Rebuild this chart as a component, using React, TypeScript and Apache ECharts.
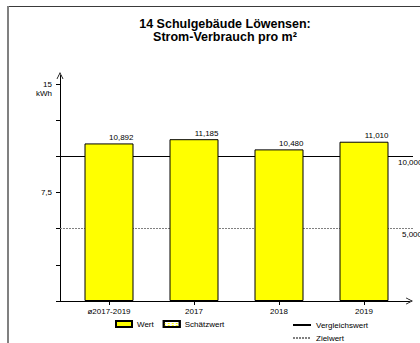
import React, { useEffect, useRef } from "react";
import * as echarts from "echarts";

const categories = ["ø2017-2019", "2017", "2018", "2019"];
const values = [10.892, 11.185, 10.48, 11.01];
const referenceValue = 10; // Vergleichswert
const targetValue = 5; // Zielwert
const yLabelValues = [7.5, 15];
const yMax = 15;
const yInterval = 2.5;
const titleText = "14 Schulgebäude Löwensen:\nStrom-Verbrauch pro m²";

const FONT = '"Liberation Sans", Arial, sans-serif';
const fmt3 = (v: number) => v.toFixed(3).replace(".", ",");
const fmtAxis = (v: number) => String(v).replace(".", ",");
const CHEVRON = "path://M0,10 L5,0 L10,10 L8.8,10 L5,2.6 L1.2,10 Z";

const legendText = { fontSize: 8, fontFamily: FONT, color: "#000" };

export default function App() {
  const ref = useRef<HTMLDivElement>(null);
  useEffect(() => {
    if (!ref.current) return;
    const chart = echarts.init(ref.current, undefined, { renderer: "svg" });
    const option: any = {
      animation: false,
      backgroundColor: "#ffffff",
      textStyle: { fontFamily: FONT },
      graphic: [
        { type: "line", shape: { x1: 7, y1: 6.5, x2: 420, y2: 6.5 }, style: { stroke: "#3a3a3a", lineWidth: 1 } },
        { type: "line", shape: { x1: 8, y1: 6, x2: 8, y2: 343 }, style: { stroke: "#808080", lineWidth: 2 } },
        {
          type: "text",
          x: 225,
          y: 18,
          style: {
            text: titleText,
            fontFamily: FONT,
            fontWeight: "bold",
            fontSize: 12.5,
            lineHeight: 12.5,
            align: "center",
            verticalAlign: "top",
            fill: "#000",
          },
        },
      ],
      legend: [
        {
          data: [
            { name: "Wert", icon: "rect" },
            { name: "Schätzwert", icon: "rect" },
          ],
          left: 115,
          top: 320,
          padding: 0,
          itemWidth: 16,
          itemHeight: 6,
          itemGap: 9,
          textStyle: legendText,
        },
        {
          data: ["Vergleichswert"],
          left: 292,
          top: 321,
          padding: 0,
          itemWidth: 18,
          itemHeight: 2,
          itemStyle: { opacity: 0 },
          textStyle: legendText,
        },
        {
          data: ["Zielwert"],
          left: 292,
          top: 334,
          padding: 0,
          itemWidth: 18,
          itemHeight: 2,
          itemStyle: { opacity: 0 },
          textStyle: legendText,
        },
      ],
      grid: [
        { left: 60, right: 10.5, top: 75.5, bottom: 42 },
        { left: 66.5, right: 13.5, top: 84, bottom: 42 },
      ],
      xAxis: [
        {
          gridIndex: 0,
          type: "value",
          min: 0,
          max: 1,
          axisLine: {
            show: true,
            lineStyle: { color: "#000", width: 1 },
            symbol: ["none", CHEVRON],
            symbolSize: [7, 8],
          },
          axisTick: { show: false },
          axisLabel: { show: false },
          splitLine: { show: false },
        },
        {
          gridIndex: 1,
          type: "category",
          data: categories,
          axisLine: { show: false },
          axisTick: { show: true, alignWithLabel: true, length: 4, lineStyle: { color: "#000" } },
          axisLabel: { fontSize: 8, color: "#000", margin: 6, fontFamily: FONT },
          splitLine: { show: false },
        },
      ],
      yAxis: [
        {
          gridIndex: 0,
          type: "value",
          min: 0,
          max: 1,
          axisLine: {
            show: true,
            lineStyle: { color: "#000", width: 1 },
            symbol: ["none", CHEVRON],
            symbolSize: [7, 7],
          },
          axisTick: { show: false },
          axisLabel: { show: false },
          splitLine: { show: false },
        },
        {
          gridIndex: 1,
          type: "value",
          min: 0,
          max: yMax,
          interval: yInterval,
          offset: 6.5,
          name: "kWh",
          nameLocation: "end",
          nameGap: -5,
          nameTextStyle: {
            fontSize: 8,
            color: "#000",
            align: "right",
            verticalAlign: "top",
            padding: [0, 8, 0, 0],
            fontFamily: FONT,
          },
          axisLine: { show: false },
          axisTick: { show: true, length: 4, lineStyle: { color: "#000" } },
          axisLabel: {
            fontSize: 8,
            color: "#000",
            margin: 8,
            fontFamily: FONT,
            formatter: (v: number) => (yLabelValues.includes(v) ? fmtAxis(v) : ""),
          },
          splitLine: { show: false },
        },
      ],
      series: [
        {
          name: "Wert",
          type: "bar",
          xAxisIndex: 1,
          yAxisIndex: 1,
          data: values,
          barWidth: 49,
          z: 3,
          itemStyle: { color: "#ffff00", borderColor: "#000", borderWidth: 1 },
          label: {
            show: true,
            position: ["100%", -2],
            align: "right",
            verticalAlign: "bottom",
            fontSize: 8,
            color: "#000",
            fontFamily: FONT,
            formatter: (p: any) => fmt3(p.value),
          },
        },
        {
          name: "Schätzwert",
          type: "bar",
          xAxisIndex: 0,
          yAxisIndex: 0,
          data: [],
          itemStyle: {
            color: "#ffffff",
            borderColor: "#000",
            borderWidth: 1,
            decal: {
              symbol: "rect",
              color: "#ffff00",
              backgroundColor: "#ffffff",
              symbolSize: 1,
              dashArrayX: [2, 2],
              dashArrayY: [1, 1],
              rotation: 0,
            },
          },
        },
        {
          name: "Vergleichswert",
          type: "line",
          xAxisIndex: 1,
          yAxisIndex: 1,
          data: [],
          symbol: "none",
          lineStyle: { color: "#000", width: 1, type: "solid" },
          itemStyle: { color: "#000" },
          markLine: {
            z: 1,
            silent: true,
            symbol: ["none", "none"],
            lineStyle: { color: "#000", width: 1, type: "solid" },
            label: {
              show: true,
              position: "end",
              distance: -15,
              verticalAlign: "top",
              padding: [2, 0, 0, 0],
              fontSize: 8,
              color: "#000",
              fontFamily: FONT,
              formatter: () => fmt3(referenceValue),
            },
            data: [[{ yAxis: referenceValue, x: 60 }, { yAxis: referenceValue, x: 413 }]],
          },
        },
        {
          name: "Zielwert",
          type: "line",
          xAxisIndex: 1,
          yAxisIndex: 1,
          data: [],
          symbol: "none",
          lineStyle: { color: "#808080", width: 1, type: [2, 1] },
          itemStyle: { color: "#808080" },
          markLine: {
            z: 1,
            silent: true,
            symbol: ["none", "none"],
            lineStyle: { color: "#808080", width: 1, type: [2, 1] },
            label: {
              show: true,
              position: "end",
              distance: -11,
              verticalAlign: "top",
              padding: [2, 0, 0, 0],
              fontSize: 8,
              color: "#000",
              fontFamily: FONT,
              formatter: () => fmt3(targetValue),
            },
            data: [[{ yAxis: targetValue, x: 60 }, { yAxis: targetValue, x: 413 }]],
          },
        },
      ],
    };
    chart.setOption(option);
    return () => chart.dispose();
  }, []);
  return (
    <div
      ref={ref}
      style={{ position: "fixed", left: 0, top: 0, width: 420, height: 343 }}
    />
  );
}
